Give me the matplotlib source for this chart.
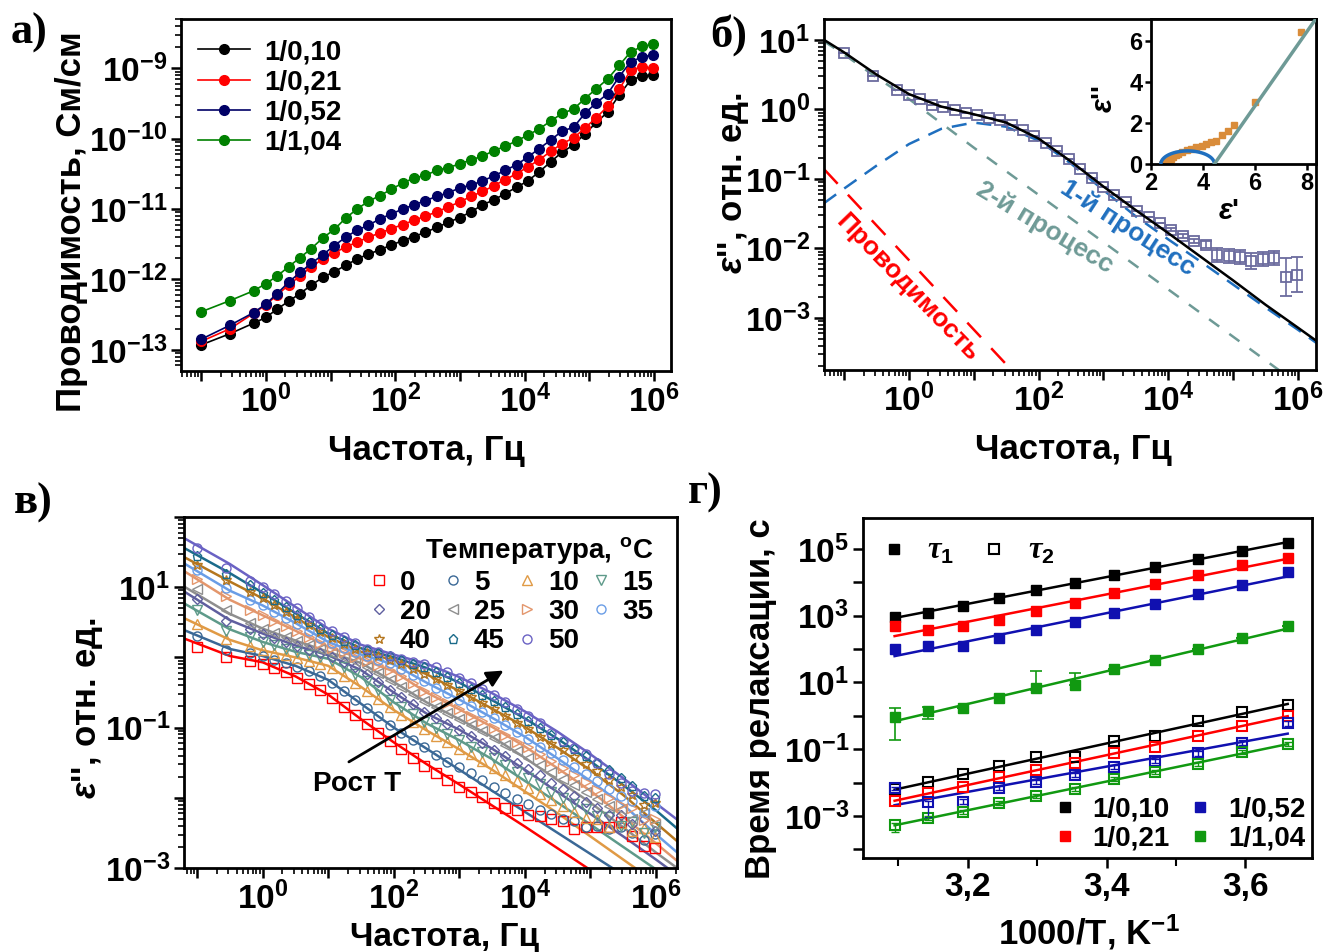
import numpy as np
import matplotlib
matplotlib.use("Agg")
import matplotlib.pyplot as plt
from matplotlib import ticker
from matplotlib.lines import Line2D

plt.rcParams['font.family'] = ['Liberation Sans', 'DejaVu Sans']
plt.rcParams['font.weight'] = 'bold'
plt.rcParams['axes.labelweight'] = 'bold'
plt.rcParams['mathtext.fontset'] = 'custom'
plt.rcParams['mathtext.rm'] = 'Liberation Sans:bold'
plt.rcParams['mathtext.it'] = 'Liberation Sans:italic:bold'
plt.rcParams['mathtext.bf'] = 'Liberation Sans:bold'
plt.rcParams['mathtext.cal'] = 'Liberation Serif:italic'
plt.rcParams['mathtext.default'] = 'regular'

W, H = 1324, 952

# ---------------- ДАННЫЕ ----------------
# частоты измерения, Гц (общие для а, б, в)
freq = np.array([0.1, 0.28, 0.65, 1.0, 1.5, 2.25, 3.38, 5.06, 7.59, 11.4, 17.1, 25.6,
                 38.4, 57.7, 86.5, 130, 195, 292, 438, 657, 985, 1480, 2220, 3330,
                 4990, 7480, 11200, 16800, 25200, 37900, 56800, 85200, 128000,
                 192000, 288000, 431000, 647000, 971000])

# а) lg проводимости, См/см
sig_010 = [-12.93, -12.77, -12.62, -12.54, -12.42, -12.31, -12.20, -12.08, -11.97, -11.89,
           -11.80, -11.71, -11.64, -11.58, -11.51, -11.45, -11.39, -11.33, -11.26, -11.19,
           -11.12, -11.04, -10.94, -10.87, -10.78, -10.69, -10.60, -10.47, -10.33, -10.19,
           -10.09, -9.93, -9.77, -9.62, -9.38, -9.17, -9.11, -9.09]
sig_021 = [-12.88, -12.70, -12.48, -12.36, -12.22, -12.08, -11.95, -11.82, -11.71, -11.62,
           -11.54, -11.47, -11.40, -11.34, -11.28, -11.22, -11.16, -11.10, -11.04, -10.97,
           -10.90, -10.82, -10.75, -10.67, -10.58, -10.50, -10.40, -10.30, -10.18, -10.07,
           -9.99, -9.85, -9.70, -9.54, -9.30, -9.03, -8.98, -9.00]
sig_052 = [-12.85, -12.65, -12.47, -12.35, -12.20, -12.04, -11.90, -11.77, -11.65, -11.52,
           -11.40, -11.30, -11.23, -11.14, -11.07, -11.00, -10.94, -10.88, -10.82, -10.77,
           -10.70, -10.66, -10.60, -10.53, -10.45, -10.37, -10.26, -10.14, -10.02, -9.89,
           -9.84, -9.64, -9.49, -9.36, -9.12, -8.91, -8.84, -8.81]
sig_104 = [-12.46, -12.30, -12.16, -12.06, -11.95, -11.82, -11.69, -11.56, -11.41, -11.29,
           -11.13, -11.00, -10.89, -10.81, -10.72, -10.63, -10.56, -10.52, -10.45, -10.41,
           -10.36, -10.30, -10.25, -10.17, -10.11, -10.03, -9.95, -9.86, -9.75, -9.64,
           -9.58, -9.43, -9.29, -9.15, -8.96, -8.77, -8.69, -8.66]

# б) lg eps'' и погрешность (в декадах)
eps_b = [0.81, 0.48, 0.28, 0.21, 0.145, 0.06, 0.03, -0.01, -0.05, -0.08, -0.13, -0.16,
         -0.22, -0.30, -0.38, -0.48, -0.60, -0.72, -0.86, -0.99, -1.11, -1.23, -1.34,
         -1.46, -1.55, -1.63, -1.73, -1.82, -1.89, -1.95, -2.09, -2.11, -2.12, -2.18,
         -2.15, -2.14, -2.41, -2.38]
err_b = [0] * 26 + [0.02, 0.03, 0.03, 0.05, 0.10, 0.10, 0.10, 0.12, 0.10, 0.10, 0.27, 0.25]
# б) составляющие аппроксимации, lg eps''
fit_lgf_b = [-1.31, -1.0, -0.5, 0.0, 0.5, 1.0, 1.5, 2.0, 2.5, 3.0, 3.5, 4.0, 4.5, 5.0, 5.5, 6.0, 6.3]
total_b = [1.00, 0.82, 0.50, 0.22, 0.04, -0.07, -0.19, -0.42, -0.75, -1.11, -1.45, -1.78,
           -2.12, -2.46, -2.81, -3.14, -3.34]
proc1_b = [-1.35, -1.14, -0.81, -0.50, -0.28, -0.19, -0.25, -0.45, -0.78, -1.16, -1.54,
           -1.87, -2.19, -2.52, -2.85, -3.17, -3.37]
proc2_b = [0.98, 0.79, 0.46, 0.15, -0.20, -0.55, -0.89, -1.23, -1.57, -1.91, -2.25,
           -2.59, -2.93, -3.27, -3.61, -3.95, -4.15]
cond_f = [0.049, 40.0]
cond_eps = [0.138, 1.7e-4]
# б) вставка: диаграмма Коул-Коул, eps'
cc_eps1 = [7.76, 6.00, 5.20, 4.95, 4.75, 4.50, 4.30, 4.10, 3.95, 3.75, 3.55, 3.40, 3.20,
           3.05, 2.95, 2.85, 2.78, 2.72, 2.67, 2.63, 2.60, 2.58, 2.56, 2.54, 2.53, 2.52,
           2.51, 2.50, 2.49, 2.49, 2.48, 2.48, 2.47, 2.47, 2.46, 2.46, 2.45, 2.45]
arc_eps_inf, arc_eps_s, arc_height = 2.38, 4.44, 0.64
cc_line_x = [4.44, 8.45]
cc_line_y = [0.0, 7.3]

# в) lg eps'' при разных температурах (°C)
eps_0 = [0.15, 0.00, -0.05, -0.09, -0.15, -0.21, -0.29, -0.38, -0.47, -0.58, -0.70, -0.82,
         -0.95, -1.08, -1.19, -1.31, -1.43, -1.54, -1.64, -1.75, -1.84, -1.92, -1.99, -2.07,
         -2.14, -2.18, -2.24, -2.26, -2.30, -2.33, -2.45, -2.42, -2.42, -2.41, -2.35, -2.55,
         -2.69, -2.72]
eps_5 = [0.30, 0.11, 0.06, 0.02, -0.03, -0.08, -0.13, -0.20, -0.27, -0.36, -0.48, -0.60,
         -0.72, -0.84, -0.96, -1.07, -1.17, -1.28, -1.39, -1.49, -1.56, -1.65, -1.75, -1.85,
         -1.93, -2.02, -2.09, -2.17, -2.23, -2.30, -2.33, -2.41, -2.40, -2.45, -2.42, -2.50,
         -2.60, -2.52]
eps_10 = [0.47, 0.26, 0.16, 0.10, 0.065, 0.03, -0.01, -0.05, -0.09, -0.15, -0.26, -0.37,
          -0.48, -0.59, -0.71, -0.82, -0.92, -1.02, -1.12, -1.21, -1.31, -1.38, -1.47, -1.58,
          -1.67, -1.76, -1.86, -1.95, -2.03, -2.12, -2.20, -2.29, -2.30, -2.41, -2.36, -2.47,
          -2.43, -2.56]
eps_15 = [0.67, 0.38, 0.29, 0.22, 0.17, 0.12, 0.07, 0.04, 0.00, -0.05, -0.14, -0.23,
          -0.34, -0.47, -0.60, -0.71, -0.81, -0.92, -1.01, -1.09, -1.18, -1.27, -1.35, -1.44,
          -1.53, -1.63, -1.72, -1.81, -1.92, -2.00, -2.09, -2.16, -2.26, -2.27, -2.40, -2.35,
          -2.50, -2.42]
eps_20 = [0.83, 0.52, 0.41, 0.34, 0.28, 0.22, 0.16, 0.11, 0.06, 0.01, -0.07, -0.14,
          -0.23, -0.35, -0.46, -0.57, -0.67, -0.78, -0.87, -0.95, -1.03, -1.12, -1.22, -1.32,
          -1.40, -1.50, -1.59, -1.68, -1.79, -1.88, -1.97, -2.06, -2.14, -2.24, -2.25, -2.38,
          -2.30, -2.48]
eps_25 = [0.98, 0.68, 0.49, 0.41, 0.35, 0.29, 0.23, 0.17, 0.12, 0.06, 0.01, -0.05,
          -0.13, -0.22, -0.32, -0.42, -0.52, -0.62, -0.71, -0.79, -0.88, -0.97, -1.05, -1.15,
          -1.25, -1.34, -1.43, -1.53, -1.63, -1.73, -1.82, -1.92, -2.02, -2.12, -2.16, -2.30,
          -2.22, -2.38]
eps_30 = [1.12, 0.87, 0.68, 0.60, 0.52, 0.45, 0.37, 0.29, 0.21, 0.13, 0.07, 0.01,
          -0.05, -0.11, -0.18, -0.27, -0.37, -0.48, -0.57, -0.65, -0.74, -0.83, -0.91, -1.00,
          -1.10, -1.20, -1.28, -1.38, -1.48, -1.58, -1.67, -1.78, -1.89, -2.00, -2.10, -2.15,
          -2.31, -2.30]
eps_35 = [1.24, 0.99, 0.82, 0.74, 0.65, 0.565, 0.47, 0.38, 0.28, 0.20, 0.14, 0.07,
          0.02, -0.03, -0.08, -0.16, -0.25, -0.34, -0.43, -0.51, -0.60, -0.69, -0.78, -0.87,
          -0.97, -1.06, -1.16, -1.27, -1.36, -1.46, -1.56, -1.66, -1.76, -1.87, -1.97, -2.04,
          -2.20, -2.12]
eps_40 = [1.32, 1.10, 0.93, 0.84, 0.75, 0.65, 0.55, 0.46, 0.36, 0.27, 0.19, 0.12,
          0.06, 0.02, -0.03, -0.09, -0.16, -0.23, -0.31, -0.39, -0.48, -0.56, -0.65, -0.74,
          -0.83, -0.93, -1.02, -1.13, -1.23, -1.32, -1.42, -1.52, -1.62, -1.74, -1.84, -1.96,
          -2.10, -2.08]
eps_45 = [1.44, 1.19, 1.03, 0.92, 0.82, 0.72, 0.61, 0.51, 0.41, 0.32, 0.24, 0.17,
          0.11, 0.06, 0.02, -0.03, -0.09, -0.14, -0.21, -0.28, -0.36, -0.45, -0.53, -0.62,
          -0.71, -0.81, -0.90, -1.00, -1.10, -1.21, -1.30, -1.40, -1.50, -1.61, -1.72, -1.83,
          -1.97, -2.00]
eps_50 = [1.56, 1.27, 1.09, 1.00, 0.91, 0.81, 0.70, 0.58, 0.48, 0.37, 0.29, 0.20,
          0.12, 0.07, 0.02, -0.02, -0.07, -0.10, -0.14, -0.21, -0.29, -0.36, -0.45, -0.54,
          -0.64, -0.73, -0.83, -0.94, -1.07, -1.19, -1.29, -1.37, -1.50, -1.66, -1.79, -1.90,
          -1.93, -1.95]

# в) аппроксимирующие кривые, lg eps''
fit_lgf = [-1.2, -0.5, 0.0, 0.5, 1.0, 1.5, 2.0, 2.5, 3.0, 3.5, 4.0, 4.5, 5.0, 5.5, 6.0, 6.35]
fit_0 = [0.27, 0.02, -0.07, -0.27, -0.53, -0.88, -1.21, -1.52, -1.81, -2.11, -2.41, -2.72, -3.03, -3.33, -3.63, -3.85]
fit_5 = [0.39, 0.12, 0.02, -0.12, -0.32, -0.66, -1.00, -1.30, -1.60, -1.90, -2.20, -2.50, -2.80, -3.10, -3.40, -3.62]
fit_10 = [0.56, 0.25, 0.10, 0.00, -0.12, -0.42, -0.75, -1.04, -1.31, -1.60, -1.91, -2.22, -2.55, -2.88, -3.21, -3.44]
fit_15 = [0.77, 0.40, 0.22, 0.08, -0.02, -0.28, -0.64, -0.94, -1.18, -1.45, -1.76, -2.07, -2.38, -2.70, -3.02, -3.24]
fit_20 = [0.94, 0.53, 0.34, 0.17, 0.03, -0.18, -0.50, -0.80, -1.03, -1.30, -1.60, -1.92, -2.23, -2.55, -2.88, -3.12]
fit_25 = [1.01, 0.62, 0.41, 0.24, 0.08, -0.08, -0.35, -0.64, -0.88, -1.13, -1.43, -1.75, -2.07, -2.42, -2.78, -3.02]
fit_30 = [1.23, 0.82, 0.60, 0.38, 0.15, -0.02, -0.20, -0.50, -0.74, -0.99, -1.27, -1.58, -1.90, -2.27, -2.65, -2.92]
fit_35 = [1.34, 0.95, 0.74, 0.49, 0.22, 0.04, -0.10, -0.36, -0.60, -0.86, -1.13, -1.44, -1.76, -2.10, -2.52, -2.80]
fit_40 = [1.43, 1.08, 0.84, 0.57, 0.29, 0.08, -0.04, -0.24, -0.48, -0.73, -0.99, -1.29, -1.61, -1.96, -2.36, -2.64]
fit_45 = [1.56, 1.20, 0.92, 0.63, 0.34, 0.13, 0.00, -0.15, -0.36, -0.61, -0.87, -1.16, -1.48, -1.82, -2.18, -2.46]
fit_50 = [1.70, 1.33, 1.03, 0.72, 0.41, 0.18, 0.04, -0.09, -0.28, -0.51, -0.77, -1.06, -1.38, -1.72, -2.08, -2.33]

# г) lg времени релаксации, с; температуры измерения, °C
temps_c = [50, 45, 40, 35, 30, 25, 20, 15, 10, 5, 0]
tau1_010 = [2.97, 3.09, 3.30, 3.54, 3.76, 3.99, 4.21, 4.47, 4.69, 4.94, 5.19]
tau1_021 = [2.69, 2.56, 2.69, 2.87, 3.14, 3.37, 3.67, 3.94, 4.21, 4.52, 4.74]
tau1_052 = [1.99, 2.08, 2.10, 2.32, 2.58, 2.82, 3.07, 3.34, 3.65, 3.92, 4.30]
tau1_104 = [-0.02, 0.16, 0.24, 0.53, 0.83, 0.92, 1.39, 1.67, 2.00, 2.32, 2.70]
tau2_010 = [-2.20, -1.97, -1.74, -1.50, -1.24, -1.24, -0.74, -0.59, -0.15, 0.12, 0.34]
tau2_021 = [-2.55, -2.32, -2.12, -1.84, -1.62, -1.40, -1.10, -0.92, -0.59, -0.29, 0.00]
tau2_052 = [-2.17, -2.57, -2.57, -2.17, -1.99, -1.77, -1.52, -1.35, -1.12, -0.80, -0.22]
tau2_104 = [-3.27, -3.07, -2.87, -2.62, -2.39, -2.19, -1.90, -1.69, -1.44, -1.09, -0.84]
# погрешности (в декадах): вниз / вверх
tau1_104_lo = [0.70, 0.25, 0, 0, 0.06, 0.0, 0, 0, 0, 0, 0]
tau1_104_hi = [0.25, 0.10, 0, 0, 0.52, 0.35, 0, 0, 0, 0, 0]
tau2_052_lo = [0.05, 0.45, 0.08, 0.06, 0.06, 0.06, 0.06, 0.06, 0.08, 0.08, 0.08]
tau2_052_hi = [0.05, 0.02, 0.08, 0.06, 0.06, 0.06, 0.06, 0.06, 0.08, 0.08, 0.08]
tau2_104_lo = [0.20, 0.06, 0.06, 0.06, 0.06, 0.06, 0.06, 0.06, 0.06, 0.06, 0.06]
tau2_104_hi = [0.05, 0.06, 0.06, 0.06, 0.06, 0.06, 0.06, 0.06, 0.06, 0.06, 0.06]


# ---------------- оформление ----------------
def px_rect(left, top, right, bottom):
    return [left / W, 1 - bottom / H, (right - left) / W, (bottom - top) / H]


def pow10_fmt(step, lo, hi, offset=0):
    # подписи 10^n только внутри диапазона оси и через step декад
    def fmt(v, pos):
        if v < lo or v > hi:
            return ''
        e = int(np.round(np.log10(v)))
        if (e - offset) % step:
            return ''
        return r'$\mathdefault{10^{%d}}$' % e
    return ticker.FuncFormatter(fmt)


def style(ax, size=24):
    for s in ax.spines.values():
        s.set_linewidth(2)
    ax.tick_params(which='major', direction='out', length=7, width=1.8, labelsize=size, pad=3)
    ax.tick_params(which='minor', direction='out', length=4, width=1.2)


def log_axis(axis, lims, step, offset=0, minor=True):
    axis.set_major_locator(ticker.LogLocator(base=10, numticks=30))
    axis.set_major_formatter(pow10_fmt(step, lims[0], lims[1], offset))
    if minor:
        axis.set_minor_locator(ticker.LogLocator(base=10, subs=np.arange(2, 10), numticks=30))
    else:
        axis.set_minor_locator(ticker.NullLocator())
    axis.set_minor_formatter(ticker.NullFormatter())


def log_err(lg, lo, hi):
    lg, lo, hi = np.array(lg), np.array(lo), np.array(hi)
    return [10 ** lg - 10 ** (lg - lo), 10 ** (lg + hi) - 10 ** lg]


fig = plt.figure(figsize=(W / 100, H / 100), dpi=100)
eps_label = r"$\mathit{\varepsilon}$'', отн. ед."

# ---------- а) ----------
ax = fig.add_axes(px_rect(181, 19, 671, 371))
for lg, c, lab in [(sig_010, 'black', '1/0,10'), (sig_021, '#FF0000', '1/0,21'),
                   (sig_052, '#000066', '1/0,52'), (sig_104, '#008000', '1/1,04')]:
    ax.plot(freq, 10 ** np.array(lg), '-o', color=c, ms=7, lw=1.2, label=lab)
xl, yl = (10 ** -1.31, 10 ** 6.26), (10 ** -13.3, 10 ** -8.3)
ax.set_xscale('log')
ax.set_yscale('log')
ax.set_xlim(*xl)
ax.set_ylim(*yl)
style(ax)
log_axis(ax.xaxis, xl, 2)
log_axis(ax.yaxis, yl, 1)
ax.set_xlabel('Частота, Гц', fontsize=25)
ax.set_ylabel('Проводимость, См/см', fontsize=25)
ax.xaxis.set_label_coords(0.5, -0.18)
ax.yaxis.set_label_coords(-0.19, 0.425)
ax.legend(loc='upper left', bbox_to_anchor=(0.0, 0.99), frameon=False, fontsize=20,
          handlelength=1.9, handletextpad=0.5, labelspacing=0.15, borderaxespad=0.2)

# ---------- б) ----------
ax = fig.add_axes(px_rect(824, 19, 1316, 370))
c_pts = '#6B6B9E'
eb = np.array(eps_b)
ax.errorbar(freq, 10 ** eb, yerr=log_err(eb, err_b, err_b), fmt='s', mfc='none', mec=c_pts,
            ecolor=c_pts, ms=6.5, mew=1.3, capsize=4, elinewidth=1.2, capthick=1.2, zorder=3)
fb = 10 ** np.array(fit_lgf_b)
ax.plot(fb, 10 ** np.array(total_b), '-', color='black', lw=1.8, zorder=4)
ax.plot(fb, 10 ** np.array(proc1_b), '--', color='#1F6FBF', lw=1.8, dashes=(6, 4))
ax.plot(fb, 10 ** np.array(proc2_b), '--', color='#6E9A96', lw=1.8, dashes=(5, 5))
ax.plot(cond_f, cond_eps, '--', color='#FF0000', lw=1.8, dashes=(8, 6))
ax.text(0.95, 10 ** -2.57, 'Проводимость', color='#FF0000', rotation=-46, fontsize=19,
        ha='center', va='center')
ax.text(10 ** 2.1, 10 ** -1.7, '2-й процесс', color='#6E9A96', rotation=-31, fontsize=19,
        ha='center', va='center')
ax.text(10 ** 3.38, 10 ** -1.7, '1-й процесс', color='#1F6FBF', rotation=-33, fontsize=19,
        ha='center', va='center')
xl, yl = (10 ** -1.31, 10 ** 6.28), (10 ** -3.75, 10 ** 1.3)
ax.set_xscale('log')
ax.set_yscale('log')
ax.set_xlim(*xl)
ax.set_ylim(*yl)
style(ax)
log_axis(ax.xaxis, xl, 2)
log_axis(ax.yaxis, yl, 1)
ax.set_xlabel('Частота, Гц', fontsize=25)
ax.set_ylabel(eps_label, fontsize=25)
ax.xaxis.set_label_coords(0.506, -0.179)
ax.yaxis.set_label_coords(-0.148, 0.533)

# вставка Коул-Коул
ins = fig.add_axes(px_rect(1151, 19, 1316, 164))
ins.set_facecolor('white')
ins.plot(cc_eps1, 10 ** eb, 's', color='#D98C3A', ms=4.5, zorder=2)
theta = np.linspace(0, np.pi, 100)
c0 = (arc_eps_inf + arc_eps_s) / 2
r0 = (arc_eps_s - arc_eps_inf) / 2
ins.plot(c0 + r0 * np.cos(theta), arc_height * np.sin(theta), color='#1F6FBF', lw=2.5, zorder=3)
ins.plot(cc_line_x, cc_line_y, color='#6E9A96', lw=2.5, zorder=3)
ins.set_xlim(2.0, 8.35)
ins.set_ylim(0, 7.1)
ins.set_xticks([2, 4, 6, 8])
ins.set_yticks([0, 2, 4, 6])
style(ins, size=17)
ins.tick_params(which='major', length=4, pad=2)
ins.set_xlabel(r"$\mathit{\varepsilon}$'", fontsize=21)
ins.set_ylabel(r"$\mathit{\varepsilon}$''", fontsize=21)
ins.xaxis.set_label_coords(0.47, -0.23)
ins.yaxis.set_label_coords(-0.2, 0.45)

# ---------- в) ----------
ax = fig.add_axes(px_rect(184, 517, 677, 868))
series_v = [
    (0, eps_0, fit_0, '#FF0000', 's'),
    (5, eps_5, fit_5, '#3A6896', 'o'),
    (10, eps_10, fit_10, '#E09A45', '^'),
    (15, eps_15, fit_15, '#5E9A8A', 'v'),
    (20, eps_20, fit_20, '#5F5F9F', 'D'),
    (25, eps_25, fit_25, '#8E8E8E', '<'),
    (30, eps_30, fit_30, '#E3966C', '>'),
    (35, eps_35, fit_35, '#6A9DE6', 'o'),
    (40, eps_40, fit_40, '#B5761E', '*'),
    (45, eps_45, fit_45, '#1B6B8A', 'p'),
    (50, eps_50, fit_50, '#6A62C4', 'o'),
]
ff = 10 ** np.array(fit_lgf)
handles = {}
for t, e, fit, c, m in series_v:
    ax.plot(ff, 10 ** np.array(fit), '-', color=c, lw=1.8, zorder=2)
    ms = 5.5 if m == 'D' else 7 if m == '*' else 6.5
    h, = ax.plot(freq, 10 ** np.array(e), m, mfc='none', mec=c, ms=ms, mew=1.0,
                 linestyle='none', zorder=3, label=str(t))
    handles[t] = h
xl, yl = (10 ** -1.2, 10 ** 6.32), (1e-3, 1e2)
ax.set_xscale('log')
ax.set_yscale('log')
ax.set_xlim(*xl)
ax.set_ylim(*yl)
style(ax)
log_axis(ax.xaxis, xl, 2)
log_axis(ax.yaxis, yl, 2, offset=1)
ax.set_xlabel('Частота, Гц', fontsize=24)
ax.set_ylabel(eps_label, fontsize=25)
ax.xaxis.set_label_coords(0.529, -0.155)
ax.yaxis.set_label_coords(-0.16, 0.456)
order = [0, 20, 40, 5, 25, 45, 10, 30, 50, 15, 35]
leg = ax.legend([handles[t] for t in order], [str(t) for t in order], ncol=4, loc='upper right',
                bbox_to_anchor=(0.985, 0.995), frameon=False, fontsize=20,
                title=r'Температура, $^{o}$C', title_fontproperties={'size': 20, 'weight': 'bold'},
                handlelength=0.6, handletextpad=0.45, columnspacing=0.5, labelspacing=0.12,
                borderaxespad=0.2, markerscale=1.0)
leg._legend_box.align = 'right'
ax.annotate('', xy=(5130, 0.68), xytext=(19, 0.031),
            arrowprops=dict(arrowstyle='-|>', color='black', lw=2, mutation_scale=25))
ax.text(27.5, 0.0155, 'Рост T', fontsize=20, ha='center', va='center')

# ---------- г) ----------
ax = fig.add_axes(px_rect(863, 518, 1312, 858))
inv_t = 1000.0 / (np.array(temps_c) + 273.15)
colors_g = {'010': 'black', '021': '#FF0000', '052': '#1010B0', '104': '#119911'}
data_g = [('010', tau1_010, tau2_010), ('021', tau1_021, tau2_021),
          ('052', tau1_052, tau2_052), ('104', tau1_104, tau2_104)]
for key, t1, t2 in data_g:
    c = colors_g[key]
    for lg in (t1, t2):
        k, b = np.polyfit(inv_t, lg, 1)
        ax.plot(inv_t, 10 ** (k * inv_t + b), '-', color=c, lw=1.8, zorder=2)
    t1a, t2a = np.array(t1), np.array(t2)
    if key == '104':
        ax.errorbar(inv_t, 10 ** t1a, yerr=log_err(t1a, tau1_104_lo, tau1_104_hi), fmt='none',
                    ecolor=c, elinewidth=1.2, capsize=4, capthick=1.2, zorder=3)
        ax.errorbar(inv_t, 10 ** t2a, yerr=log_err(t2a, tau2_104_lo, tau2_104_hi), fmt='none',
                    ecolor=c, elinewidth=1.0, capsize=3, capthick=1.0, zorder=4)
    if key == '052':
        ax.errorbar(inv_t, 10 ** t2a, yerr=log_err(t2a, tau2_052_lo, tau2_052_hi), fmt='none',
                    ecolor=c, elinewidth=1.0, capsize=3, capthick=1.0, zorder=4)
    ax.plot(inv_t, 10 ** t1a, 's', color=c, ms=7.5, zorder=3)
    ax.plot(inv_t, 10 ** t2a, 's', mfc='none', mec=c, mew=1.5, ms=7.5, zorder=3)
yl = (10 ** -4.26, 10 ** 5.93)
ax.set_yscale('log')
ax.set_xlim(3.049, 3.696)
ax.set_ylim(*yl)
style(ax)
log_axis(ax.yaxis, yl, 2, offset=1, minor=False)
ax.xaxis.set_major_locator(ticker.MultipleLocator(0.2))
ax.xaxis.set_minor_locator(ticker.MultipleLocator(0.1))
ax.xaxis.set_major_formatter(ticker.FuncFormatter(lambda v, p: f'{v:.1f}'.replace('.', ',')))
ax.tick_params(axis='x', which='minor', length=6, width=1.5)
ax.set_xlabel('1000/T, K$^{-1}$', fontsize=25)
ax.set_ylabel('Время релаксации, с', fontsize=25)
ax.xaxis.set_label_coords(0.503, -0.16)
ax.yaxis.set_label_coords(-0.192, 0.468)

h_t1 = Line2D([], [], marker='s', color='black', linestyle='none', ms=7.5)
h_t2 = Line2D([], [], marker='s', mfc='none', mec='black', mew=1.5, linestyle='none', ms=7.5)
leg1 = ax.legend([h_t1, h_t2], [r'$\mathcal{\tau}_1$', r'$\mathcal{\tau}_2$'], ncol=2,
                 loc='upper left', bbox_to_anchor=(0.0, 1.0), frameon=False, fontsize=22,
                 handlelength=0.8, handletextpad=0.7, columnspacing=0.9, borderaxespad=0.2)
ax.add_artist(leg1)
hs = [Line2D([], [], marker='s', color=colors_g[k], linestyle='none', ms=7.5)
      for k in ('010', '021', '052', '104')]
ax.legend(hs, ['1/0,10', '1/0,21', '1/0,52', '1/1,04'], ncol=2, loc='lower right',
          bbox_to_anchor=(1.01, -0.015), frameon=False, fontsize=20, handlelength=0.8,
          handletextpad=0.6, columnspacing=0.7, labelspacing=0.12, borderaxespad=0.0)

# подписи панелей
for x, y, s in [(29, 33, 'а)'), (729, 35, 'б)'), (33, 503, 'в)'), (705, 493, 'г)')]:
    fig.text(x / W, 1 - y / H, s, family='Liberation Serif', fontweight='bold', fontsize=32,
             ha='center', va='center')

fig.savefig('out.png', dpi=100)
